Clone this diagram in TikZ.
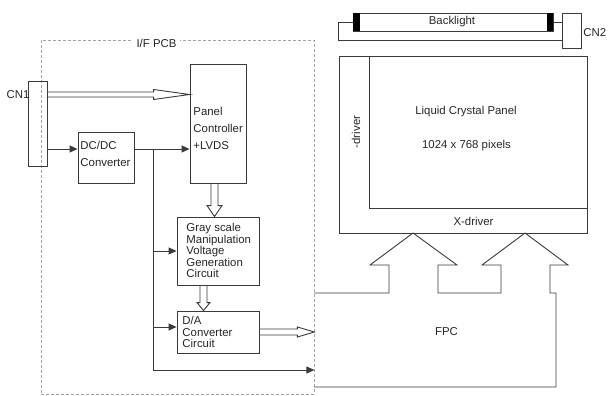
\documentclass[tikz,border=0pt]{standalone}
\usepackage{fontspec}
\setmainfont{Liberation Sans}
\usepackage{tikz}
\usetikzlibrary{positioning,calc,arrows.meta}
\definecolor{lnc}{HTML}{3A3A3A}
\definecolor{txc}{HTML}{262626}
\definecolor{pcbc}{HTML}{A3A3A3}

\begin{document}
\begin{tikzpicture}[x=1pt, y=-1pt, color=lnc, line width=0.9pt,
  blk/.style={draw=lnc, line width=0.9pt, inner sep=0pt},
  lbl/.style={font=\fontsize{11.4}{17}\selectfont, text=txc, inner sep=0pt, align=left},
  lbltight/.style={font=\fontsize{11.4}{11.5}\selectfont, text=txc, inner sep=0pt, align=left},
  feed/.style={-{Triangle[length=8pt,width=7pt]}},
  % hollow bus arrows: half gap / head length / head half width
  hbus/.style n args={3}{to path={let \p1=(\tikztostart), \p2=(\tikztotarget) in
    (\x1,\y2+#1pt) -- (\x2-#2pt,\y2+#1pt) -- (\x2-#2pt,\y2+#3pt) -- (\x2,\y2)
    -- (\x2-#2pt,\y2-#3pt) -- (\x2-#2pt,\y2-#1pt) -- (\x1,\y2-#1pt)}},
  vbus/.style n args={3}{to path={let \p1=(\tikztostart), \p2=(\tikztotarget) in
    (\x1+#1pt,\y1) -- (\x1+#1pt,\y2+#2pt) -- (\x1+#3pt,\y2+#2pt) -- (\x1,\y2)
    -- (\x1-#3pt,\y2+#2pt) -- (\x1-#1pt,\y2+#2pt) -- (\x1-#1pt,\y1)}},
]
\useasboundingbox (0,0) rectangle (608,396);

% interface board
\node[draw=pcbc, line width=0.8pt, dash pattern=on 3pt off 2pt, minimum width=273pt, minimum height=354pt] (pcb) at (177.5,217) {};
\node[lbl, fill=white, inner xsep=4pt, inner ysep=1pt] (pcbname) at (156.5,43) {I/F PCB};

\node[blk, minimum width=19pt, minimum height=85pt] (cn1) at (37.5,123.5) {};
\node[lbl] (cn1name) at (18,95) {CN1};

\node[blk, minimum width=56pt, minimum height=51pt] (dcdc) at (106,157.5) {};
\node[lbl, anchor=west] (dcdctext) at (80,153.5) {DC/DC\\Converter};

\node[blk, minimum width=56pt, minimum height=119pt] (ctrl) at (218,123.5) {};
\node[lbl, anchor=west] (ctrltext) at (193,128) {Panel\\Controller\\+LVDS};

\node[blk, minimum width=82pt, minimum height=68pt] (gray) at (218,251) {};
\node[lbltight, anchor=west] (graytext) at (186,250.5) {Gray scale\\Manipulation\\Voltage\\Generation\\Circuit};

\node[blk, minimum width=82pt, minimum height=42pt] (da) at (218,332) {};
\node[lbltight, anchor=west] (datext) at (182,332) {D/A\\Converter\\Circuit};

% signal and power paths
\draw (cn1.east |- 0,94.5) to[hbus={2.5}{36}{5}] (ctrl.west |- 0,94.5);
\draw (ctrl.south -| 214.5,0) to[vbus={3.5}{11}{7.5}] (gray.north -| 214.5,0);
\draw (gray.south -| 203.5,0) to[vbus={3.5}{8}{6.5}] (da.north -| 203.5,0);
\draw (da.east |- 0,332) to[hbus={3}{17}{5}] (pcb.east |- 0,332);

\draw[feed] (cn1.east |- 0,149) -- (dcdc.west |- 0,149);
\draw[feed] (dcdc.east |- 0,149) -- (ctrl.west |- 0,149);
\coordinate (tap) at (153,149);
\draw[feed] (tap) |- (pcb.east |- 0,370);
\draw[feed] (tap |- 0,251) -- (gray.west |- 0,251);
\draw[feed] (tap |- 0,327) -- (da.west |- 0,327);

% backlight
\node[blk, minimum width=200pt, minimum height=18pt] (lamp) at (453,22) {};
\fill[black] (lamp.north west) rectangle ++(7,18);
\fill[black] (lamp.north east) rectangle ++(-6,18);
\node[lbl] (lampname) at (452,22) {Backlight};
\node[blk, minimum width=19pt, minimum height=35pt] (cn2) at (571.5,30.5) {};
\node[lbl, anchor=west] (cn2name) at (583,33) {CN2};
\draw (lamp.west) -| (338,40) -- (cn2.west |- 0,40);
\draw (lamp.east) -- (cn2.west |- lamp.east);

% panel
\node[blk, minimum width=248pt, minimum height=177pt] (lcd) at (463,144.5) {};
\node[blk, minimum width=218pt, minimum height=152pt] (cell) at (478,132) {};
\node[lbl] (lcdname) at (466,112) {Liquid Crystal Panel};
\node[lbl] (lcdres) at (466.5,146) {1024 x 768 pixels};
\node[lbl] (xdrv) at (473.5,221) {X-driver};
\node[lbl, rotate=90] (ydrv) at (356,132) {-driver};

% flexible board
\draw (pcb.east |- 0,293) -- (389,293) -- (389,265) -- (370,265) -- (413,233) -- (457,265)
  -- (438,265) -- (438,293) -- (501,293) -- (501,265) -- (482,265) -- (525,233)
  -- (568,265) -- (550,265) -- (550,293) -- (556,293) -- (556,387) -- (pcb.east |- 0,387);
\node[lbl] (fpcname) at (446.5,332) {FPC};
\end{tikzpicture}
\end{document}
